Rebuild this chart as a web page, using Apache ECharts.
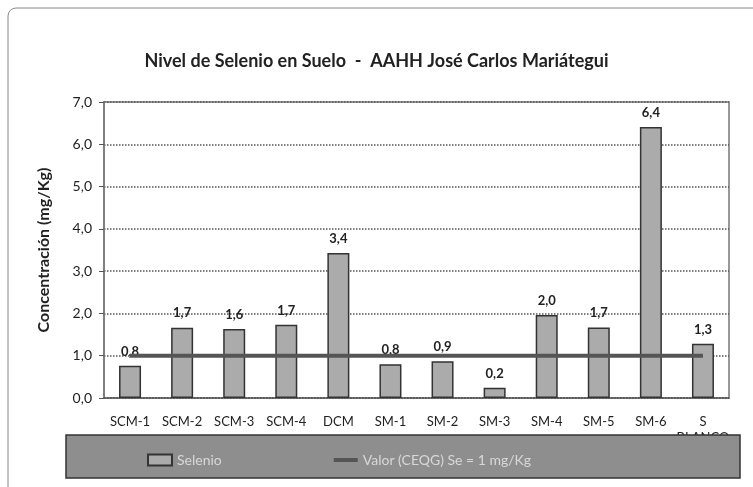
<!DOCTYPE html>
<html lang="es">
<head>
  <meta charset="UTF-8">
  <title>Nivel de Selenio en Suelo</title>
  <style>
    * { margin: 0; padding: 0; }
    body { background-color: #ffffff; }
    #chart { width: 753px; height: 487px; }
  </style>
</head>
<body>
  <div id="chart"></div>
  <script src="https://cdn.jsdelivr.net/npm/echarts@6/dist/echarts.min.js"></script>
  <script>
    // datos
    const categorias = ['SCM-1', 'SCM-2', 'SCM-3', 'SCM-4', 'DCM', 'SM-1', 'SM-2', 'SM-3', 'SM-4', 'SM-5', 'SM-6', 'S\nBLANCO'];
    const selenio = [0.76, 1.66, 1.63, 1.73, 3.43, 0.80, 0.87, 0.24, 1.96, 1.67, 6.41, 1.28];
    const limite = [1, 1, 1, 1, 1, 1, 1, 1, 1, 1, 1, 1];
    const ticksY = [0, 1, 2, 3, 4, 5, 6, 7];

    const fuente = "Lato, sans-serif";
    const coma = v => v.toFixed(1).replace('.', ',');

    var myChart = echarts.init(document.getElementById('chart'));
    var option = {
      animation: false,
      title: {
        text: 'Nivel de Selenio en Suelo  -  AAHH José Carlos Mariátegui',
        left: 'center',
        top: 47,
        textStyle: { fontFamily: fuente, fontSize: 18, fontWeight: 'bold', color: '#222' }
      },
      graphic: [
        {
          // marco exterior del grafico
          type: 'rect',
          z: -1,
          shape: { x: 8, y: 8, width: 760, height: 500, r: 8 },
          style: { fill: 'none', stroke: '#888', lineWidth: 1 }
        },
        {
          // fondo de la leyenda
          type: 'rect',
          z: 5,
          shape: { x: 66, y: 435, width: 674, height: 43 },
          style: { fill: '#8e8e8e', stroke: '#333', lineWidth: 1.5 }
        }
      ],
      legend: {
        z: 10,
        left: 142,
        top: 448,
        itemGap: 112,
        itemWidth: 24,
        itemHeight: 11,
        textStyle: { fontFamily: fuente, fontSize: 14, color: '#d8d8d8' },
        data: [
          { name: 'Selenio', icon: 'rect' },
          { name: 'Valor (CEQG) Se = 1 mg/Kg', icon: 'path://M0,0H24V4H0Z' }
        ]
      },
      grid: { left: 104, right: 24, top: 102, bottom: 89, show: true, borderColor: '#777', borderWidth: 1.5 },
      xAxis: {
        type: 'category',
        data: categorias,
        axisLine: { lineStyle: { color: '#555', type: 'dotted', width: 1.5 } },
        axisTick: { lineStyle: { color: '#555' } },
        axisLabel: { fontFamily: fuente, fontSize: 13, color: '#222', margin: 16, interval: 0, lineHeight: 16, verticalAlign: 'top' }
      },
      yAxis: {
        type: 'value',
        min: ticksY[0],
        max: ticksY[ticksY.length - 1],
        interval: 1,
        name: 'Concentración (mg/Kg)',
        nameLocation: 'middle',
        nameGap: 52,
        nameTextStyle: { fontFamily: fuente, fontSize: 16, fontWeight: 'bold', color: '#222' },
        axisLine: { show: true, lineStyle: { color: '#777', width: 1.5 } },
        axisTick: { show: true, length: 5, lineStyle: { color: '#555' } },
        axisLabel: { fontFamily: fuente, fontSize: 14, color: '#222', margin: 12, formatter: v => coma(v) },
        splitLine: { lineStyle: { color: '#555', type: 'dotted', width: 1.5 } }
      },
      series: [
        {
          name: 'Selenio',
          type: 'bar',
          barWidth: 22,
          data: selenio,
          itemStyle: { color: '#ababab', borderColor: '#333', borderWidth: 1.5 },
          label: {
            show: true,
            position: 'top',
            distance: 8,
            fontFamily: fuente,
            fontSize: 13,
            fontWeight: 'bold',
            color: '#222',
            formatter: p => coma(p.value)
          }
        },
        {
          name: 'Valor (CEQG) Se = 1 mg/Kg',
          type: 'line',
          data: limite,
          symbol: 'none',
          z: 3,
          itemStyle: { color: '#555' },
          lineStyle: { color: '#555', width: 4 }
        }
      ]
    };
    myChart.setOption(option);
  </script>
</body>
</html>
